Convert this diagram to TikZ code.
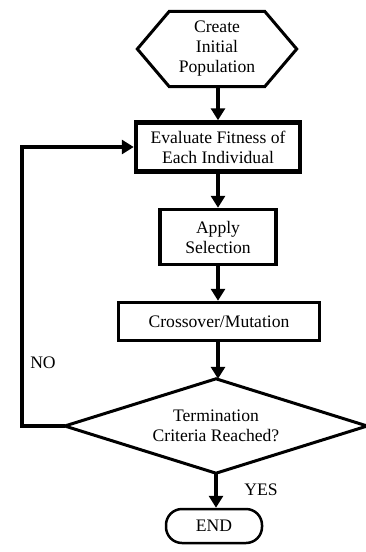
\documentclass[tikz,border=0pt]{standalone}
\usepackage{fontspec}
\setmainfont{Liberation Serif}
\usetikzlibrary{arrows.meta,calc}
\begin{document}
\begin{tikzpicture}[x=1pt,y=-1pt,
  every node/.style={font=\fontsize{17.6}{20}\selectfont, align=center, inner sep=0pt},
  box/.style={draw, line width=3.5pt, rectangle},
  arr/.style={line width=3.5pt, -{Triangle[length=12pt,width=14pt]}},
  lbl/.style={font=\fontsize{17.6}{20}\selectfont}
]
\useasboundingbox (0,0) rectangle (366,552);
\fill[white] (0,0) rectangle (366,552);

\node (hex) at (217,49) [minimum width=159pt, minimum height=75pt] {Create\\Initial\\Population};
\draw[line width=3pt] (hex.west) -- ($(hex.north west)+(32,0)$) -- ($(hex.north east)+(-32,0)$)
  -- (hex.east) -- ($(hex.south east)+(-32,0)$) -- ($(hex.south west)+(32,0)$) -- cycle;

\node[box, line width=4.5pt, minimum width=164pt, minimum height=49pt] (eval) at (218,147) {Evaluate Fitness of\\Each Individual};
\node[box, minimum width=116pt, minimum height=55pt] (apply) at (218,237) {Apply\\Selection};
\node[box, minimum width=201pt, minimum height=38pt] (cross) at (219,321.5) {Crossover/Mutation};
\node[minimum width=302pt, minimum height=94pt] (dia) at (216,426) {Termination\\Criteria Reached?};
\draw[line width=3pt] (dia.north) -- (dia.east) -- (dia.south) -- (dia.west) -- cycle;
\node[draw, line width=2.5pt, rounded corners=16pt, minimum width=96pt, minimum height=34pt] (end) at (214,526) {END};

\draw[arr] (hex.south -| eval.north) -- (eval.north);
\draw[arr] (eval.south) -- (eval.south |- apply.north);
\draw[arr] (eval.south |- apply.south) -- (eval.south |- cross.north);
\draw[arr] (eval.south |- cross.south) -- (eval.south |- dia.north);
\draw[arr] (dia.south) -- (dia.south |- end.north);
\draw[arr, line join=miter] (dia.west) -- ++(-43,0) |- (eval.west);

\node[lbl] (no) at (43,363) {NO};
\node[lbl] (yes) at (261,490) {YES};
\end{tikzpicture}
\end{document}
